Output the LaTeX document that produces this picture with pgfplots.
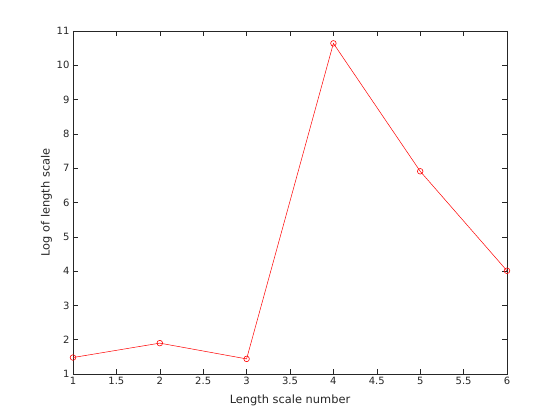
\documentclass[border=0pt]{standalone}
\usepackage{pgfplots}
\pgfplotsset{compat=1.18}
\usepackage{fontspec}
\setmainfont{DejaVu Sans}
\definecolor{axgray}{rgb}{0.15,0.15,0.15}
\begin{document}
\fontsize{10}{12}\selectfont
\begin{tikzpicture}
\begin{axis}[
  at={(0pt,0pt)}, anchor=south west,
  scale only axis, width=434pt, height=343pt,
  xmin=1, xmax=6, ymin=1, ymax=11,
  xtick={1,1.5,...,6}, ytick={1,2,...,11},
  tick align=inside,
  major tick length=5pt,
  axis line style={axgray, line width=0.5pt},
  every tick/.style={axgray, line width=0.5pt},
  tick label style={font=\fontsize{10}{12}\selectfont, text=axgray},
  label style={font=\fontsize{11.4}{13}\selectfont, text=axgray},
  /pgf/number format/assume math mode=true,
  /pgf/number format/fixed,
  xlabel={Length scale number},
  ylabel={Log of length scale},
  xlabel style={yshift=-3pt},
  ylabel style={yshift=-2pt},
]
\addplot[red, line width=0.5pt, mark=o, mark size=2.8pt, mark options={line width=0.6pt}] coordinates {
  (1,1.48) (2,1.90) (3,1.44) (4,10.64) (5,6.91) (6,4.01)
};
\end{axis}
\useasboundingbox (-73pt,-46pt) rectangle (487pt,374pt);
\end{tikzpicture}
\end{document}
